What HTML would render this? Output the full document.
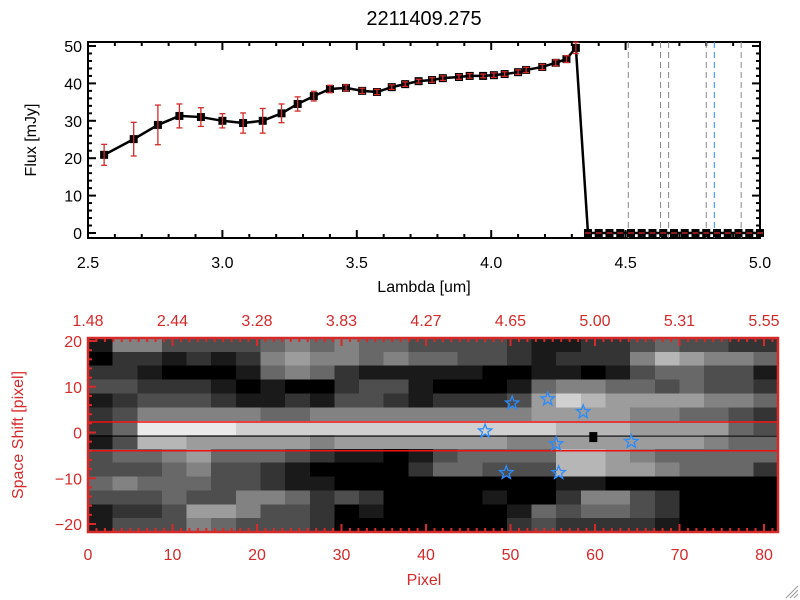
<!DOCTYPE html>
<html><head><meta charset="utf-8"><style>
body{margin:0;background:#fff;width:800px;height:600px;overflow:hidden}
svg{display:block;font-family:"Liberation Sans",sans-serif}
</style></head><body>
<svg id="c" width="800" height="600" viewBox="0 0 800 600"></svg>
<script>
const lam=[2.56,2.67,2.76,2.84,2.92,3.0,3.077,3.15,3.22,3.28,3.34,3.40,3.46,3.52,3.575,3.63,3.68,3.73,3.78,3.82,3.88,3.92,3.97,4.01,4.05,4.10,4.13,4.19,4.24,4.28,4.315];
const flux=[20.9,25.1,28.9,31.3,31,30,29.4,30,32,34.5,36.6,38.5,38.8,38,37.7,39,39.8,40.6,40.9,41.4,41.7,42,42,42.2,42.5,43,43.6,44.4,45.5,46.5,49.5];
const ferr=[2.8,4.5,5.3,3.2,2.5,1.9,2.7,3.3,2.5,1.9,1.3,1,0.8,0.7,0.7,0.6,0.6,0.5,0.6,0.6,0.6,0.6,0.5,0.6,0.6,0.6,0.7,0.7,0.8,0.9,1.5];
const zeroLam=[4.36,4.40,4.44,4.48,4.52,4.56,4.60,4.64,4.68,4.72,4.76,4.80,4.84,4.88,4.92,4.96,5.0];
const vLines=[4.51,4.63,4.66,4.80,4.83,4.93];
const vColors=["#888","#888","#888","#888","#2090ff","#888"];
const xTicks=[2.5,3.0,3.5,4.0,4.5,5.0];
const xTickLabels=["2.5","3.0","3.5","4.0","4.5","5.0"];
const yTicks=[0,10,20,30,40,50];
const pixTicks=[0,10,20,30,40,50,60,70,80];
const topLabels=["1.48","2.44","3.28","3.83","4.27","4.65","5.00","5.31","5.55"];
const shiftTicks=[-20,-10,0,10,20];
const starPix=[47.0,50.2,54.4,58.6,55.4,64.3,49.5,55.7];
const starShift=[0.3,6.4,7.3,4.5,-2.5,-2.0,-8.8,-8.8];
const markerPix=[59.8];const markerShift=[-1.0];
const redLines=[2.3,-4.0];const traceLine=[-0.8];
const heat=[
"1553333454544333321122343322",
"0221212565545443321222576554",
"2210001454211111001101344331",
"3322210100233100014554434332",
"1233321121332122236876666554",
"2355555445555555556666554432",
"2499998888888888888777666643",
"1377666665666666655666666544",
"3445644432110134444776544444",
"3334533210000244333776654442",
"4544433211000000000110000000",
"3334335542320000100255320000",
"1223665332010000014344320000",
"1333543332000000023222210000"];
const S=document.getElementById('c');const NS="http://www.w3.org/2000/svg";
function mk(t,a,p){const e=document.createElementNS(NS,t);for(const k in a)e.setAttribute(k,a[k]);(p||S).appendChild(e);return e;}
const RED="#d42a2a";
const X=l=>88+(l-2.5)*268.8, Y=f=>233-f*3.74;
let t=mk('text',{x:424,y:25,'text-anchor':'middle','font-size':20});t.textContent="2211409.275";

let fr=mk('rect',{x:88,y:42,width:672,height:196,fill:'none',stroke:'#000','stroke-width':2});

for(let v=2.5;v<=5.001;v+=0.1){const big=Math.abs(v*2-Math.round(v*2))<0.01;const L=big?8:4;
 mk('line',{x1:X(v),x2:X(v),y1:238,y2:238-L,stroke:'#000','stroke-width':2});mk('line',{x1:X(v),x2:X(v),y1:42,y2:42+L,stroke:'#000','stroke-width':2});}
for(let f=0;f<=50;f+=2){const big=f%10==0;const L=big?8:4;mk('line',{x1:88,x2:88+L,y1:Y(f),y2:Y(f),stroke:'#000','stroke-width':2});mk('line',{x1:760,x2:760-L,y1:Y(f),y2:Y(f),stroke:'#000','stroke-width':2});}
xTicks.forEach((v,i)=>{const e=mk('text',{x:X(v),y:268,'text-anchor':'middle','font-size':16});e.textContent=xTickLabels[i];
});
yTicks.forEach(v=>{const e=mk('text',{x:82,y:Y(v)+6,'text-anchor':'end','font-size':16});e.textContent=v;
});
t=mk('text',{x:424,y:292,'text-anchor':'middle','font-size':16});t.textContent="Lambda [um]";

t=mk('text',{x:0,y:0,'text-anchor':'middle','font-size':16,transform:'translate(36,140) rotate(-90)'});t.textContent="Flux [mJy]";

vLines.forEach((v,i)=>{const e=mk('line',{x1:X(v),x2:X(v),y1:42,y2:238,stroke:vColors[i],'stroke-width':1,'stroke-dasharray':'6,4'});
});
const allL=lam.concat(zeroLam),allF=flux.concat(zeroLam.map(()=>0));
let pl=mk('polyline',{points:allL.map((l,i)=>X(l)+','+Y(allF[i])).join(' '),fill:'none',stroke:'#000','stroke-width':2.5});

allL.forEach((l,i)=>{const r=mk('rect',{x:X(l)-4,y:Y(allF[i])-4,width:8,height:8,fill:'#000'});
});
lam.forEach((l,i)=>{const x=X(l),y1=Y(flux[i]-ferr[i]),y2=Y(flux[i]+ferr[i]);
 const g=mk('g',{stroke:RED,'stroke-width':1.3});
 mk('line',{x1:x,x2:x,y1:y1,y2:y2},g);mk('line',{x1:x-3,x2:x+3,y1:y1,y2:y1},g);mk('line',{x1:x-3,x2:x+3,y1:y2,y2:y2},g);});
zeroLam.forEach(l=>{mk('line',{x1:X(l)-3,x2:X(l)+3,y1:Y(0),y2:Y(0),stroke:RED,'stroke-width':1.3});});
const PX=p=>88+p*8.45, SY=s=>432.5-s*4.575;
const cw=690/28,ch=194/14;
const hg=mk('g',{'shape-rendering':'crispEdges'});
heat.forEach((row,r)=>{for(let c=0;c<row.length;c++){const v=Math.min(255,Math.round(+row[c]*26));
 const e=mk('rect',{x:88+c*cw,y:338+r*ch,width:cw+0.6,height:ch+0.6,fill:`rgb(${v},${v},${v})`},hg);
 }});
redLines.forEach(s=>{const e=mk('line',{x1:88,x2:778,y1:SY(s),y2:SY(s),stroke:'#f01010','stroke-width':1.5});
});
traceLine.forEach(s=>{const e=mk('line',{x1:88,x2:778,y1:SY(s),y2:SY(s),stroke:'#000','stroke-width':1});
});
function star(cx,cy,R){let p=[];for(let k=0;k<10;k++){const a=-Math.PI/2+k*Math.PI/5,rr=k%2?R*0.42:R;p.push((cx+rr*Math.cos(a)).toFixed(1)+','+(cy+rr*Math.sin(a)).toFixed(1));}return p.join(' ');}
starPix.forEach((p,i)=>{const e=mk('polygon',{points:star(PX(p),SY(starShift[i]),7),fill:'none',stroke:'#2a8cff','stroke-width':1.3});
});
markerPix.forEach((p,i)=>{const e=mk('rect',{x:PX(p)-4,y:SY(markerShift[i])-5,width:8,height:10,fill:'#000'});
});
fr=mk('rect',{x:88,y:338,width:690,height:194,fill:'none',stroke:RED,'stroke-width':2.5});

for(let p=0;p<=81;p++){const big=p%10==0;const L=big?8:4;mk('line',{x1:PX(p),x2:PX(p),y1:532,y2:532-L,stroke:RED,'stroke-width':2});mk('line',{x1:PX(p),x2:PX(p),y1:338,y2:338+L,stroke:RED,'stroke-width':2});}
for(let s=-20;s<=20;s+=2){const big=s%10==0;const L=big?8:4;mk('line',{x1:88,x2:88+L,y1:SY(s),y2:SY(s),stroke:RED,'stroke-width':2});}
pixTicks.forEach((p,i)=>{let e=mk('text',{x:PX(p),y:560,'text-anchor':'middle','font-size':16,fill:RED});e.textContent=p;
 
 e=mk('text',{x:PX(p),y:326,'text-anchor':'middle','font-size':16,fill:RED});e.textContent=topLabels[i];
 });
shiftTicks.forEach(s=>{const e=mk('text',{x:82,y:SY(s)+6,'text-anchor':'end','font-size':16,fill:RED});e.textContent=s==0?"0":(s<0?"\u2212"+(-s):s);
});
t=mk('text',{x:424,y:585,'text-anchor':'middle','font-size':16,fill:RED});t.textContent="Pixel";

t=mk('text',{x:0,y:0,'text-anchor':'middle','font-size':16,fill:RED,transform:'translate(23,435) rotate(-90)'});t.textContent="Space Shift [pixel]";

const gr=mk('g',{stroke:'#999','stroke-width':1});
[[786,598,798,586],[790,598,798,590],[794,598,798,594]].forEach(a=>mk('line',{x1:a[0],y1:a[1],x2:a[2],y2:a[3]},gr));
</script>
</body></html>
